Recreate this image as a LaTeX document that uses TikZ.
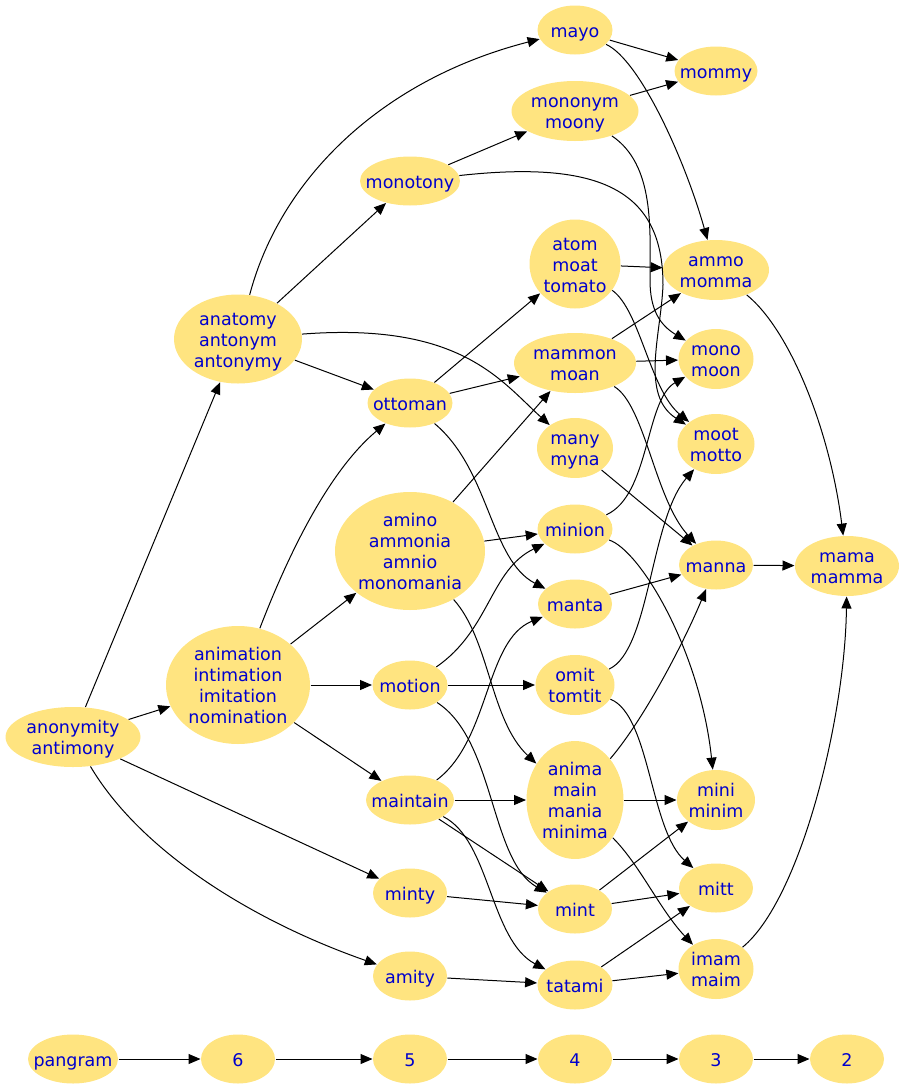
\documentclass[tikz,border=0pt]{standalone}
\usepackage{fontspec}
\newfontfamily\wordfamily{DejaVu Sans}
\usetikzlibrary{shapes.geometric,arrows.meta}
\definecolor{wordfill}{RGB}{255,228,128}
\definecolor{wordblue}{RGB}{0,0,205}
\tikzset{
  wordnode/.style = {ellipse, fill=wordfill, text=wordblue, inner sep=0pt,
    font=\wordfamily\fontsize{17.5}{21}\selectfont,
    minimum width=74pt, minimum height=49pt},
  wd_one/.style = {wordnode, text height=16pt, text depth=2pt,
    execute at begin node={\hbox to 0pt\bgroup\hss},
    execute at end node={\hss\egroup}},% one line, width set by hand
  wd_two/.style = {wordnode, align=center, minimum height=60pt,
    text height=37pt, text depth=2pt},% two lines
  wd_three/.style = {wordnode, align=center, minimum height=89pt,
    text height=58pt, text depth=2pt},% three lines
  wd_four/.style = {wordnode, align=center, minimum height=118pt,
    text height=79pt, text depth=2pt}% four lines
}
\begin{document}
\begin{tikzpicture}[x=1pt,y=-1pt,->,>={Triangle[length=12pt,width=10pt]},
  line width=1pt]
\useasboundingbox (0,0) rectangle (906,1090);
% 7 letters
\node [wd_two, minimum width=135pt] (anonymity) at (73,737) {anonymity\\antimony};
% 6 letters
\node [wd_three, minimum width=128pt] (anatomy) at (238,339) {anatomy\\antonym\\antonymy};
\node [wd_four, minimum width=144pt] (animation) at (238,685) {animation\\intimation\\imitation\\nomination};
% 5 letters
\node [wd_one, minimum width=100pt] (monotony) at (410,181) {monotony};
\node [wd_one, minimum width=85pt] (ottoman) at (410,403) {ottoman};
\node [wd_four, minimum width=150pt] (amino) at (410,551) {amino\\ammonia\\amnio\\monomania};
\node [wd_one, minimum width=75pt] (motion) at (410,685) {motion};
\node [wd_one, minimum width=88pt] (maintain) at (410,800) {maintain};
\node [wd_one] (minty) at (410,893) {minty};
\node [wd_one] (amity) at (410,976) {amity};
% 4 letters
\node [wd_one, minimum width=75pt] (mayo) at (575,30) {mayo};
\node [wd_two, minimum width=127pt] (mononym) at (575,111) {mononym\\moony};
\node [wd_three, minimum width=91pt] (atom) at (575,264) {atom\\moat\\tomato};
\node [wd_two, minimum width=122pt] (mammon) at (575,363) {mammon\\moan};
\node [wd_two, minimum width=76pt] (many) at (575,448) {many\\myna};
\node [wd_one, minimum width=75pt] (minion) at (575,529) {minion};
\node [wd_one] (manta) at (575,604) {manta};
\node [wd_two, minimum width=79pt] (omit) at (575,685) {omit\\tomtit};
\node [wd_four, minimum width=97pt] (anima) at (575,800) {anima\\main\\mania\\minima};
\node [wd_one] (mint) at (575,909) {mint};
\node [wd_one, minimum width=75pt] (tatami) at (575,985) {tatami};
% 3 letters
\node [wd_one, minimum width=83pt] (mommy) at (716,71) {mommy};
\node [wd_two, minimum width=106pt] (ammo) at (716,270) {ammo\\momma};
\node [wd_two, minimum width=75pt] (mono) at (716,359) {mono\\moon};
\node [wd_two, minimum width=77pt] (moot) at (716,444) {moot\\motto};
\node [wd_one] (manna) at (716,565) {manna};
\node [wd_two, minimum width=78pt] (mini) at (716,800) {mini\\minim};
\node [wd_one] (mitt) at (716,888) {mitt};
\node [wd_two, minimum width=75pt] (imam) at (716,969) {imam\\maim};
% 2 letters
\node [wd_two, minimum width=104pt] (mama) at (847,566) {mama\\mamma};
% legend row
\node [wd_one, minimum width=90pt] (pangram) at (73,1059) {pangram};
\node [wd_one] (six) at (238,1059) {6};
\node [wd_one] (five) at (410,1059) {5};
\node [wd_one] (four) at (575,1059) {4};
\node [wd_one] (three) at (716,1059) {3};
\node [wd_one] (two) at (847,1059) {2};

\draw (anonymity) -- (anatomy);
\draw (anonymity) -- (animation);
\draw (anonymity) -- (minty);
\draw (anonymity) .. controls (140,850) and (250,920) .. (amity);
\draw (anatomy) .. controls (280,180) and (380,80) .. (mayo);
\draw (anatomy) -- (monotony);
\draw (anatomy) -- (ottoman);
\draw (anatomy) .. controls (460,322) and (500,380) .. (many);
\draw (animation) .. controls (290,550) and (330,470) .. (ottoman);
\draw (animation) -- (amino);
\draw (animation) -- (motion);
\draw (animation) -- (maintain);
\draw (monotony) -- (mononym);
\draw (monotony) .. controls (600,160) and (663,190) .. (663,285)
  .. controls (661,335) and (640,395) .. (moot);
\draw (ottoman) -- (mammon);
\draw (ottoman) -- (atom);
\draw (ottoman) .. controls (490,470) and (490,560) .. (manta);
\draw (amino) -- (mammon);
\draw (amino) -- (minion);
\draw (amino) .. controls (490,640) and (490,720) .. (anima);
\draw (motion) .. controls (490,630) and (490,570) .. (minion);
\draw (motion) -- (omit);
\draw (motion) .. controls (495,740) and (490,860) .. (mint);
\draw (maintain) .. controls (490,740) and (485,640) .. (manta);
\draw (maintain) -- (anima);
\draw (maintain) -- (mint);
\draw (maintain) .. controls (490,840) and (490,940) .. (tatami);
\draw (minty) -- (mint);
\draw (amity) -- (tatami);
\draw (mayo) -- (mommy);
\draw (mayo) .. controls (640,60) and (685,160) .. (ammo);
\draw (mononym) -- (mommy);
\draw (mononym) .. controls (655,165) and (650,230) .. (650,280)
  .. controls (650,310) and (660,325) .. (mono);
\draw (atom) -- (ammo);
\draw (atom) .. controls (640,310) and (650,390) .. (moot);
\draw (mammon) -- (ammo);
\draw (mammon) -- (mono);
\draw (mammon) .. controls (645,405) and (655,500) .. (manna);
\draw (many) -- (manna);
\draw (minion) .. controls (650,495) and (645,400) .. (mono);
\draw (minion) .. controls (640,550) and (700,650) .. (mini);
\draw (manta) -- (manna);
\draw (omit) .. controls (650,650) and (650,520) .. (moot);
\draw (omit) .. controls (650,715) and (650,830) .. (mitt);
\draw (anima) .. controls (645,718) and (685,640) .. (manna);
\draw (anima) -- (mini);
\draw (anima) .. controls (640,865) and (660,910) .. (imam);
\draw (mint) -- (mini);
\draw (mint) -- (mitt);
\draw (tatami) -- (mitt);
\draw (tatami) -- (imam);
\draw (ammo) .. controls (790,330) and (830,430) .. (mama);
\draw (manna) -- (mama);
\draw (imam) .. controls (800,900) and (845,720) .. (mama);
\draw (pangram) -- (six);
\draw (six) -- (five);
\draw (five) -- (four);
\draw (four) -- (three);
\draw (three) -- (two);
\end{tikzpicture}
\end{document}
